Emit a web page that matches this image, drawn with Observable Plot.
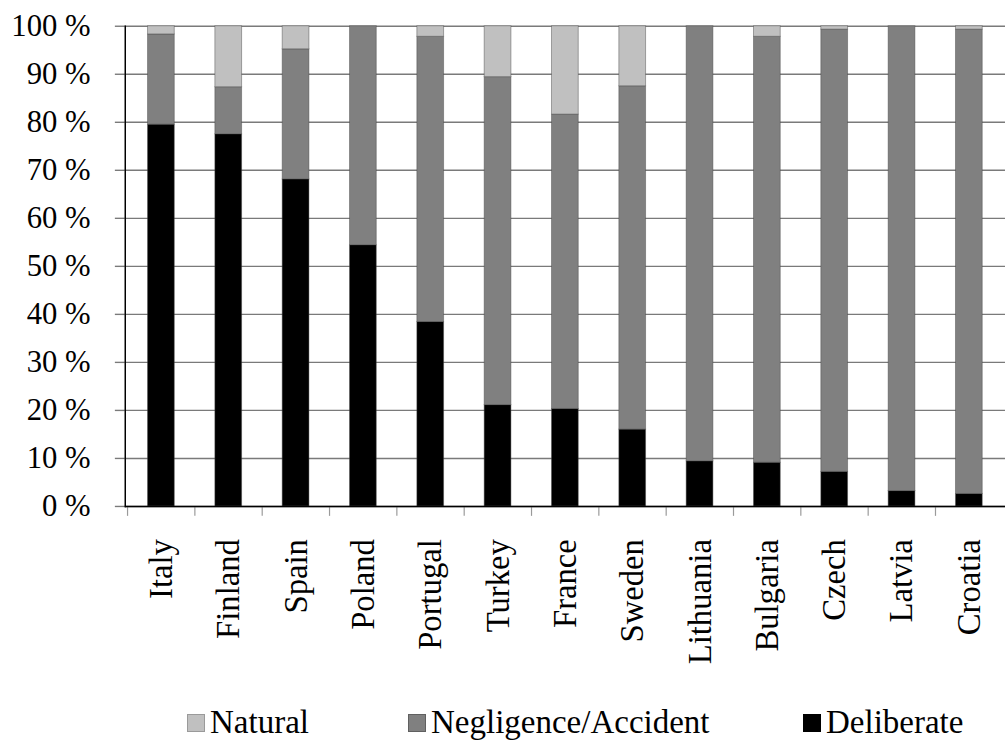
<!DOCTYPE html>
<html>
<head>
<meta charset="utf-8">
<script src="https://cdn.jsdelivr.net/npm/d3@7"></script>
<script src="https://cdn.jsdelivr.net/npm/@observablehq/plot@0.6"></script>
<style>
  html, body { margin: 0; padding: 0; background: #fff; overflow: hidden; }
  #wrap { width: 1005px; overflow: hidden; }
  #chart svg { display: block; }
  #chart svg text { font-family: "Liberation Serif", "Tinos", "DejaVu Serif", serif; }
  #legend { position: relative; width: 1005px; height: 47px; font-family: "Liberation Serif", "Tinos", "DejaVu Serif", serif; font-size: 33px; color: #000; }
  #legend .item { position: absolute; top: 6px; height: 47px; display: flex; align-items: center; white-space: nowrap; }
  #legend .sw { width: 18px; height: 18px; margin-right: 5px; box-sizing: border-box; }
</style>
</head>
<body>
<div id="wrap">
  <div id="chart"></div>
  <div id="legend"></div>
</div>
<script>
const countries = ["Italy","Finland","Spain","Poland","Portugal","Turkey","France","Sweden","Lithuania","Bulgaria","Czech","Latvia","Croatia"];
const deliberate = [79.5, 77.5, 68.1, 54.4, 38.4, 21.1, 20.3, 16.0, 9.4, 9.1, 7.2, 3.2, 2.6];
const negligence = [18.8, 9.8, 27.1, 45.6, 59.4, 68.3, 61.3, 71.5, 90.6, 88.7, 92.1, 96.8, 96.7];
const natural    = [1.7, 12.7, 4.8, 0.0, 2.2, 10.6, 18.4, 12.5, 0.0, 2.2, 0.7, 0.0, 0.7];
const causes = ["Deliberate", "Negligence/Accident", "Natural"];
const causeColors = ["#000000", "#808080", "#c0c0c0"];
const yTicks = [0, 10, 20, 30, 40, 50, 60, 70, 80, 90, 100];
const legendOrder = ["Natural", "Negligence/Accident", "Deliberate"];

const series = [deliberate, negligence, natural];
const data = [];
countries.forEach((c, i) => {
  causes.forEach((k, j) => data.push({country: c, cause: k, value: series[j][i]}));
});

const W = 1015, H = 700, ML = 126, MT = 26, MB = 189;
const step = (W - ML) / countries.length;

const chart = Plot.plot({
  width: W,
  height: H,
  marginLeft: ML,
  marginRight: 0,
  marginTop: MT,
  marginBottom: MB,
  style: {background: "#fff", color: "#000"},
  x: {domain: countries, paddingInner: 0.6, paddingOuter: 0.3, label: null},
  y: {domain: [0, 100], label: null},
  color: {domain: causes, range: causeColors},
  marks: [
    Plot.gridY(yTicks, {stroke: "#7a7a7a", strokeOpacity: 1, strokeWidth: 1.4}),
    Plot.axisY(yTicks, {tickSize: 10, tickPadding: 25, stroke: "#7a7a7a", strokeWidth: 1.4, fontSize: 31, fill: "#000", tickFormat: d => d + " %", label: null}),
    Plot.barY(data, {x: "country", y: "value", fill: "cause", order: causes, stroke: "#444", strokeOpacity: 0.45, strokeWidth: 1}),
    Plot.axisX({tickSize: 10, tickPadding: 0, dx: -step / 2, tickFormat: () => "", stroke: "#9a9a9a", strokeWidth: 1.2, label: null}),
    Plot.axisX({tickSize: 0, tickPadding: 33, tickRotate: -90, fontSize: 33, fill: "#000", label: null}),
    Plot.ruleY([0], {stroke: "#000", strokeWidth: 1.5}),
    Plot.frame({anchor: "left", stroke: "#000", strokeWidth: 1.5})
  ]
});
document.getElementById("chart").appendChild(chart);

const legend = document.getElementById("legend");
const lefts = [187, 408, 803];
const borders = ["#9a9a9a", "#606060", "#000"];
legendOrder.forEach((name, i) => {
  const item = document.createElement("div");
  item.className = "item";
  item.style.left = lefts[i] + "px";
  const sw = document.createElement("span");
  sw.className = "sw";
  sw.style.background = causeColors[causes.indexOf(name)];
  sw.style.border = "1.5px solid " + borders[i];
  item.appendChild(sw);
  const t = document.createElement("span");
  t.textContent = name;
  item.appendChild(t);
  legend.appendChild(item);
});
</script>
</body>
</html>
